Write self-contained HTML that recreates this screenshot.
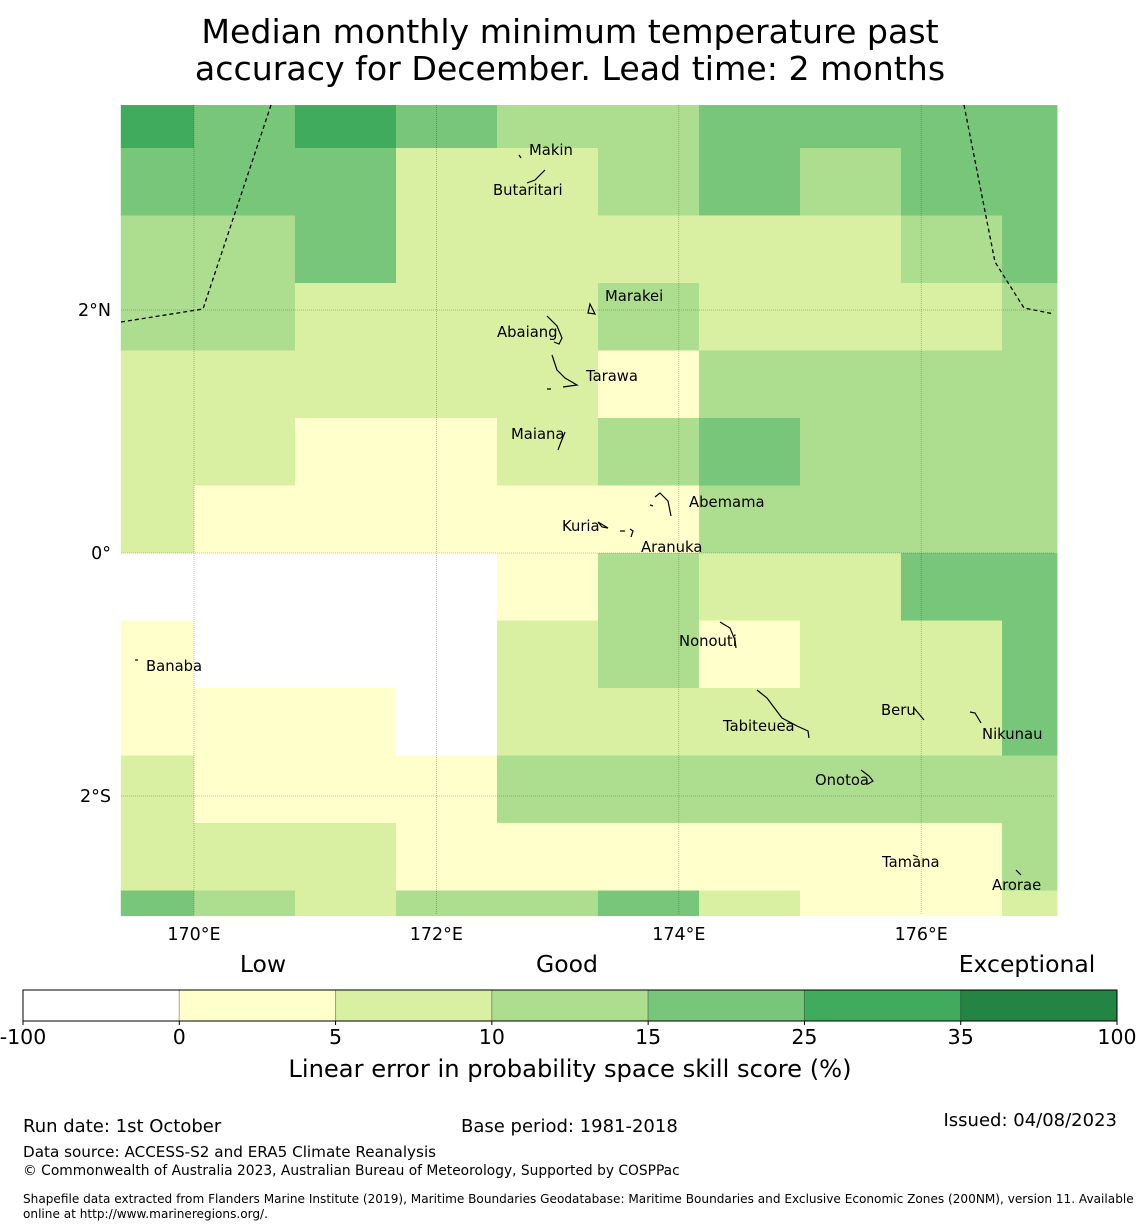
<!DOCTYPE html>
<html><head><meta charset="utf-8"><style>
html,body{margin:0;padding:0;background:#fff;}
svg{display:block;font-family:"DejaVu Sans","Liberation Sans",sans-serif;}
</style></head><body>
<svg id="chart" width="1140" height="1230" viewBox="0 0 1140 1230">
<text x="570" y="43" font-size="33.2" text-anchor="middle">Median monthly minimum temperature past</text>
<text x="570" y="80" font-size="33.2" text-anchor="middle">accuracy for December. Lead time: 2 months</text>
<g id="cells"></g>
<g id="grid"></g>
<g id="eez">
<polyline points="121,322 203,309 271,105" fill="none" stroke="#000" stroke-width="1.3" stroke-dasharray="4,3"/>
<polyline points="964,105 995,262 1024,308 1054,314" fill="none" stroke="#000" stroke-width="1.3" stroke-dasharray="4,3"/>
</g>
<g id="islands" fill="none" stroke="#000" stroke-width="1.2"></g>
<g id="labels" font-size="14.8"></g>
<g id="axes" font-size="17.5"></g>
<g id="cbar"></g>
<text x="263" y="972" font-size="23.5" text-anchor="middle">Low</text>
<text x="567" y="972" font-size="23.5" text-anchor="middle">Good</text>
<text x="1027" y="972" font-size="23.5" text-anchor="middle">Exceptional</text>
<text x="570" y="1077" font-size="24.2" text-anchor="middle">Linear error in probability space skill score (%)</text>
<text x="23" y="1132" font-size="18">Run date: 1st October</text>
<text x="461" y="1132" font-size="18">Base period: 1981-2018</text>
<text x="1117" y="1126" font-size="18" text-anchor="end">Issued: 04/08/2023</text>
<text x="23" y="1157" font-size="15.2">Data source: ACCESS-S2 and ERA5 Climate Reanalysis</text>
<text x="23" y="1175" font-size="13.8">© Commonwealth of Australia 2023, Australian Bureau of Meteorology, Supported by COSPPac</text>
<text x="23" y="1203" font-size="12.1">Shapefile data extracted from Flanders Marine Institute (2019), Maritime Boundaries Geodatabase: Maritime Boundaries and Exclusive Economic Zones (200NM), version 11. Available</text>
<text x="23" y="1218" font-size="12.1">online at http://www.marineregions.org/.</text>
</svg>
<script>
const NS="http://www.w3.org/2000/svg";
// data
const colEdgesLon=[169.396,170,170.833,171.667,172.5,173.333,174.167,175,175.833,176.667,177.12];
const rowEdgesLat=[3.687,3.333,2.778,2.222,1.667,1.111,0.556,0,-0.556,-1.111,-1.667,-2.222,-2.778,-2.984];
const skillClass=[
[5,4,5,4,3,3,4,4,4,4],
[4,4,4,2,2,3,4,3,4,4],
[3,3,4,2,2,2,2,2,3,4],
[3,3,2,2,2,3,2,2,2,3],
[2,2,2,2,2,1,3,3,3,3],
[2,2,1,1,2,3,4,3,3,3],
[2,1,1,1,1,1,3,3,3,3],
[0,0,0,0,1,3,2,2,4,4],
[1,0,0,0,2,3,1,2,2,4],
[1,1,1,0,2,2,2,2,2,4],
[2,1,1,1,3,3,3,3,3,3],
[2,2,2,1,1,1,1,1,1,3],
[4,3,2,3,3,4,2,1,1,2]];
const classColors=["#ffffff","#ffffcc","#d9f0a3","#addd8e","#78c679","#41ab5d","#238443"];
const cbarTicks=["-100","0","5","10","15","25","35","100"];
const lonTicks=[170,172,174,176];
const latTicks=[2,0,-2];
const islandNames=["Makin","Butaritari","Marakei","Abaiang","Tarawa","Maiana","Abemama","Kuria","Aranuka","Banaba","Nonouti","Tabiteuea","Beru","Nikunau","Onotoa","Tamana","Arorae"];
const islandLabelPos=[[529,155],[493,195],[605,301],[497,337],[586,381],[511,439],[689,507],[562,531],[641,552],[146,671],[679,646],[723,731],[881,715],[982,739],[815,785],[882,867],[992,890]];
// axis functions
const X0=194,PXD=121.2,Y0=553,PYD=121.5;
const xs=lon=>X0+(lon-170)*PXD;
const ys=lat=>Y0-lat*PYD;
function mk(tag,attrs,parent){const e=document.createElementNS(NS,tag);for(const k in attrs)e.setAttribute(k,attrs[k]);parent.appendChild(e);return e;}
const cells=document.getElementById('cells');
skillClass.forEach((row,r)=>row.forEach((c,ci)=>{
 const x1=xs(colEdgesLon[ci]),x2=xs(colEdgesLon[ci+1]),y1=ys(rowEdgesLat[r]),y2=ys(rowEdgesLat[r+1]);
 const e=mk('rect',{x:x1,y:y1,width:x2-x1+0.5,height:y2-y1+0.5,fill:classColors[c]},cells);
 
 
}));
const grid=document.getElementById('grid');
const axes=document.getElementById('axes');
lonTicks.forEach(l=>{
 const g=mk('line',{x1:xs(l),x2:xs(l),y1:105,y2:915,stroke:'#000','stroke-opacity':0.3,'stroke-width':0.8,'stroke-dasharray':'1,1'},grid);
 
 
 const t=mk('text',{x:xs(l),y:940,'text-anchor':'middle'},axes);t.textContent=l+'°E';
 
 
});
latTicks.forEach(l=>{
 const g=mk('line',{x1:121,x2:1054,y1:ys(l),y2:ys(l),stroke:'#000','stroke-opacity':0.3,'stroke-width':0.8,'stroke-dasharray':'1,1'},grid);
 
 
 const t=mk('text',{x:111,y:ys(l)+6,'text-anchor':'end'},axes);t.textContent=l===0?'0°':Math.abs(l)+'°'+(l>0?'N':'S');
 
 
});
const labels=document.getElementById('labels');
islandNames.forEach((n,i)=>{
 const t=mk('text',{x:islandLabelPos[i][0],y:islandLabelPos[i][1]},labels);t.textContent=n;
 
 
});
const islands=document.getElementById('islands');
["M519,155 l2,3","M527,183 l8,-3 l10,-10","M588,313 l2,-9 l5,10z","M547,316 l10,10 l5,12 l-3,6 l-5,-2","M552,355 l5,15 l8,8 l12,7 l-14,2 M547,389 l4,0","M565,432 l-4,10 l-3,8","M655,497 l5,-4 l8,8 l3,15 M650,505 l3,1","M598,522 l4,5 l6,1z","M620,531 l5,0 M630,529 l3,2 l-2,6","M135,660 l3,0","M720,622 l10,6 l5,12 l1,8","M757,690 l10,8 l15,20 l15,8 l11,5 l1,7","M914,708 l10,12","M970,712 l5,1 l6,10","M861,770 l8,6 l4,5 l-5,3","M913,855 l5,2","M1016,870 l5,5"].forEach(d=>{
 const e=mk('path',{d:d},islands);
 
 
});
const cbar=document.getElementById('cbar');
const cbX=23,cbW=1094/7;
classColors.forEach((c,i)=>{
 const e=mk('rect',{x:cbX+i*cbW,y:990,width:cbW,height:31,fill:c,stroke:'#000','stroke-opacity':0.25,'stroke-width':1},cbar);
 
 
});
mk('rect',{x:cbX,y:990,width:1094,height:31,fill:'none',stroke:'#000','stroke-width':1},cbar);
cbarTicks.forEach((t,i)=>{
 const x=cbX+i*cbW;
 mk('line',{x1:x,x2:x,y1:1021,y2:1025,stroke:'#000'},cbar);
 const e=mk('text',{x:x,y:1044,'font-size':20.5,'text-anchor':'middle'},cbar);e.textContent=t;
 
 
});
</script>
</body></html>
